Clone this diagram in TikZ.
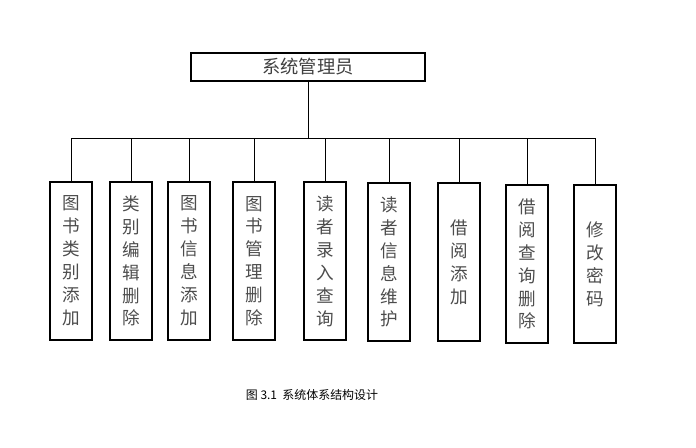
\documentclass[tikz,border=0pt]{standalone}
\usepackage{fontspec}
\setmainfont{Noto Sans CJK SC}
\usetikzlibrary{positioning}
\tikzset{
  topbox/.style={
    rectangle, draw=black, thick,
    minimum width=5.85cm, minimum height=0.7cm,
    font=\fontsize{13}{15}\selectfont, text=black!75},
  funcbox/.style={
    rectangle, draw=black, thick,
    minimum width=1.05cm, minimum height=3.95cm,
    align=center, inner sep=0pt,
    font=\fontsize{12.5}{16.3}\selectfont, text=black!70},
  tree/.style={draw, semithick},
}
\begin{document}
\begin{tikzpicture}[x=0.025cm, y=-0.025cm]
  \useasboundingbox (0,0) rectangle (696,447);
  \node[topbox] (admin) at (308,67) {系统管理员};
  % function modules
  \node[funcbox] (m1) at (71,261)  {图\\书\\类\\别\\添\\加};
  \node[funcbox] (m2) at (131,261) {类\\别\\编\\辑\\删\\除};
  \node[funcbox] (m3) at (189,261) {图\\书\\信\\息\\添\\加};
  \node[funcbox] (m4) at (254,261) {图\\书\\管\\理\\删\\除};
  \node[funcbox] (m5) at (325,261) {读\\者\\录\\入\\查\\询};
  \node[funcbox] (m6) at (389,262) {读\\者\\信\\息\\维\\护};
  \node[funcbox] (m7) at (459,262) {借\\阅\\添\\加};
  \node[funcbox] (m8) at (527,264) {借\\阅\\查\\询\\删\\除};
  \node[funcbox] (m9) at (595,264) {修\\改\\密\\码};
  \coordinate (bus) at (0,138);
  \draw[tree] (admin.south) -- (admin.south |- bus);
  \draw[tree] (m1.north |- bus) -- (m9.north |- bus);
  \foreach \m in {m1,m2,m3,m4,m5,m6,m7,m8,m9}
    \draw[tree] (\m.north |- bus) -- (\m.north);
  \node[font=\fontsize{8.5}{10}\selectfont] (cap) at (312,395) {图 3.1\ \ 系统体系结构设计};
\end{tikzpicture}
\end{document}
